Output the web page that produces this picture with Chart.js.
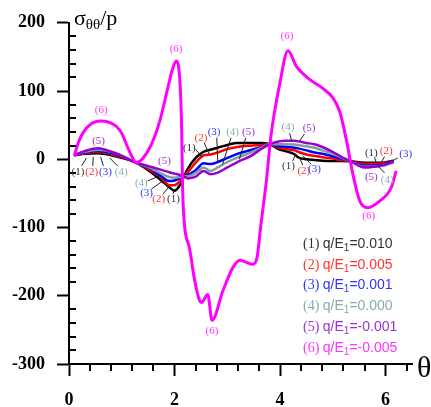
<!DOCTYPE html>
<html>
<head>
<meta charset="utf-8">
<script src="https://cdn.jsdelivr.net/npm/chart.js@4"></script>
<style>
  html, body { margin: 0; padding: 0; background: #fff; }
</style>
</head>
<body>
<canvas id="stressChart" width="431" height="407"></canvas>
<script>
// theta grid shared by curves (1)-(5)
const theta = [0.10, 0.30, 0.55, 0.80, 1.05, 1.27, 1.50, 1.75, 1.90, 2.00, 2.10, 2.18, 2.25, 2.40, 2.55, 2.68, 2.82,
    3.00, 3.19, 3.45, 3.64, 3.80, 3.97, 4.10, 4.28, 4.34, 4.50, 4.65, 4.80, 4.97, 5.15, 5.34, 5.60, 5.92, 6.15];
const sigma1 = [6, 8, 9, 6, 1, -5, -16, -31, -41, -46, -38, -25, -14, 2, 11, 14, 17,
    21, 24, 24, 24, 22, 15, 12, 7, 3, 0, -1, -2, -2.5, -2.5, -3, -5, -5, -2];
const sigma2 = [6, 9, 10.5, 7.5, 2, -5, -14, -27, -38, -38, -32, -25, -19, -5, 6, 7, 10,
    15, 18, 20, 21, 22, 17, 15, 13, 11, 7, 5, 3, 1.5, -1, -3, -7, -6, -2.5];
const sigma3 = [6, 10, 12, 9, 3, -5, -12, -25, -32, -31, -28, -25, -23, -16, -6, -7, -4,
    2, 8, 13.5, 18, 22, 19, 18.5, 17, 16, 13, 10, 8, 5, 1, -3, -9.5, -8, -3];
const sigma4 = [6, 11, 14, 11, 4, -5, -11, -21, -26, -27, -26, -25, -25, -20, -12, -17, -12,
    -4, 2.5, 10, 17, 22, 22, 22, 21.5, 21, 19, 17, 13, 9, 3, -3, -11, -10, -4];
const sigma5 = [6, 12, 16, 11, 3, -5, -10, -15.5, -19, -21, -23, -25, -28, -25.5, -17, -22, -19.5,
    -12, -4, 5, 15, 22, 26, 27, 27, 26.5, 24, 22, 18, 12, 4, -3, -12, -9, -4];

// curve (6) has its own theta points
const theta6 = [0.10, 0.18, 0.26, 0.42, 0.61, 0.80, 0.90, 1.00, 1.11, 1.20, 1.27, 1.53, 1.72, 1.87, 1.97, 2.03, 2.08, 2.13, 2.16,
    2.28, 2.38, 2.47, 2.51, 2.63, 2.71, 2.92, 3.11, 3.24, 3.36, 3.48, 3.56, 3.64, 3.74, 3.83, 3.99,
    4.15, 4.31, 4.56, 4.81, 5.00, 5.13, 5.26, 5.38, 5.51, 5.66, 5.89, 6.11, 6.20];
const sigma6 = [5, 25, 38, 52, 56, 53, 48, 38, 18, 3, -5, 17, 56, 104, 134, 144, 134, 61, -61,
    -129, -177, -206, -210, -198, -236, -192, -158, -148, -151, -154, -145, -94, -32, 36, 109,
    159, 136, 117, 104, 90, 70, 27, -22, -61, -71, -61, -41, -17];

const qRatios = ['0.010', '0.005', '0.001', '0.000', '-0.001', '-0.005'];
const xTicks = [0, 2, 4, 6];
const yTicks = [-300, -200, -100, 0, 100, 200];

const lineColors = ['#000000', '#ff0000', '#0000ff', '#7f9f9f', '#9900cc', '#ff00ff'];
const textColors = ['#333333', '#ff3333', '#3333ff', '#88aaaa', '#9933cc', '#ff33ff'];

// curve tags: [curve no, theta, sigma]
const tags = [
    [6, 0.61, 72], [5, 0.56, 27], [1, 0.17, -18.5], [2, 0.43, -18.5], [3, 0.69, -18.5], [4, 0.99, -18.5],
    [6, 2.03, 161], [5, 1.81, -2.4], [4, 1.37, -34.5], [3, 1.47, -50], [2, 1.70, -58], [1, 1.98, -58],
    [1, 2.28, 17], [2, 2.50, 31.5], [3, 2.75, 40], [4, 3.10, 40], [5, 3.40, 40],
    [4, 4.15, 47], [5, 4.55, 45],
    [1, 4.16, -10], [2, 4.45, -17], [3, 4.65, -14.5],
    [1, 5.73, 9.7], [2, 6.01, 12], [3, 6.38, 7],
    [5, 5.73, -26.7], [4, 6.03, -30],
    [6, 4.13, 180.6], [6, 2.71, -252.5], [6, 5.68, -84]
];
// leader lines: [theta1, sigma1, theta2, sigma2]
const leaders = [
    [0.24, -9.7, 0.33, 2], [0.45, -9.7, 0.46, 3.4], [0.65, -9.7, 0.60, 3.4], [0.92, -9.7, 0.77, 2],
    [1.49, -31.6, 1.72, -24.3], [1.56, -43.7, 1.78, -31.6], [1.78, -51, 1.91, -38.8], [1.97, -51, 2.0, -43.7],
    [2.40, 14.6, 2.53, 2.4], [2.56, 24.2, 2.66, 7.3], [2.80, 31.5, 2.82, -4.9], [3.07, 31.5, 2.91, -7.3], [3.35, 31.5, 3.23, 0],
    [4.18, 38.3, 4.22, 26.7], [4.46, 36.9, 4.37, 26.7],
    [4.24, -2.4, 4.29, 6.3], [4.43, -8.7, 4.37, 2.4], [4.59, -7.3, 4.43, 4.9],
    [5.79, 2.4, 5.82, -3.9], [5.98, 3.8, 5.92, -3.9], [6.23, 2, 6.13, -2.4],
    [5.98, -19.9, 5.85, -9.7]
];

const toPoints = (xs, ys) => xs.map((x, i) => ({ x: x, y: ys[i] }));
const series = [sigma1, sigma2, sigma3, sigma4, sigma5];

const datasets = series.map((s, i) => ({
    data: toPoints(theta, s),
    borderColor: lineColors[i],
    borderWidth: 2.5,
    order: 5 - i
}));
datasets.push({
    data: toPoints(theta6, sigma6),
    borderColor: lineColors[5],
    borderWidth: 3,
    order: 0
});

const extras = {
    id: 'extras',
    afterDraw(chart) {
        const ctx = chart.ctx;
        const xs = chart.scales.x, ys = chart.scales.y;
        const area = chart.chartArea;
        ctx.save();

        // minor ticks
        ctx.strokeStyle = '#000';
        ctx.lineWidth = 2;
        ctx.beginPath();
        for (let k = 1; k * 0.4 <= 6.5; k++) {
            if (k % 5 === 0) continue;
            const px = Math.round(xs.getPixelForValue(k * 0.4));
            ctx.moveTo(px, area.bottom);
            ctx.lineTo(px, area.bottom + 7);
        }
        for (let v = -280; v < 200; v += 20) {
            if (v % 100 === 0) continue;
            const py = Math.round(ys.getPixelForValue(v));
            ctx.moveTo(area.left, py);
            ctx.lineTo(area.left + 7, py);
        }
        ctx.stroke();

        // leader lines
        ctx.strokeStyle = '#222';
        ctx.lineWidth = 1;
        ctx.beginPath();
        leaders.forEach(l => {
            ctx.moveTo(xs.getPixelForValue(l[0]), ys.getPixelForValue(l[1]));
            ctx.lineTo(xs.getPixelForValue(l[2]), ys.getPixelForValue(l[3]));
        });
        ctx.stroke();

        // curve tags
        ctx.font = '11px "Liberation Serif"';
        ctx.textAlign = 'center';
        ctx.textBaseline = 'middle';
        tags.forEach(t => {
            ctx.fillStyle = textColors[t[0] - 1];
            ctx.fillText('(' + t[0] + ')', xs.getPixelForValue(t[1]), ys.getPixelForValue(t[2]));
        });

        // legend
        ctx.textAlign = 'left';
        ctx.textBaseline = 'alphabetic';
        qRatios.forEach((q, i) => {
            const base = 248 + i * 20.7;
            let x = 303;
            ctx.fillStyle = textColors[i];
            ctx.font = '14px "Liberation Serif"';
            const tag = '(' + (i + 1) + ') ';
            ctx.fillText(tag, x, base);
            x += ctx.measureText(tag).width;
            ctx.font = '14px "Liberation Sans"';
            ctx.fillText('q/E', x, base);
            x += ctx.measureText('q/E').width;
            ctx.font = '10px "Liberation Sans"';
            ctx.fillText('1', x, base + 3);
            x += ctx.measureText('1').width;
            ctx.font = '14px "Liberation Sans"';
            ctx.fillText('=' + q, x, base);
        });

        // axis titles
        ctx.fillStyle = '#000';
        let tx = 74;
        ctx.font = '22px "Liberation Serif"';
        ctx.fillText('\u03c3', tx, 25);
        tx += ctx.measureText('\u03c3').width;
        ctx.font = '15px "Liberation Serif"';
        ctx.fillText('\u03b8\u03b8', tx, 29);
        tx += ctx.measureText('\u03b8\u03b8').width;
        ctx.font = '22px "Liberation Serif"';
        ctx.fillText('/p', tx, 25);

        ctx.font = '30px "Liberation Serif"';
        ctx.fillText('\u03b8', 417, 377);
        ctx.restore();
    }
};

const tickFont = { family: 'Liberation Serif', size: 18, weight: 'bold' };

new Chart(document.getElementById('stressChart'), {
    type: 'line',
    data: { datasets: datasets },
    options: {
        responsive: false,
        animation: false,
        events: [],
        layout: { padding: { left: 0, top: 21, right: 19, bottom: 0 } },
        elements: {
            point: { radius: 0 },
            line: { cubicInterpolationMode: 'monotone', fill: false }
        },
        plugins: { legend: { display: false }, tooltip: { enabled: false } },
        scales: {
            x: {
                type: 'linear',
                min: 0,
                max: 6.5,
                afterBuildTicks: s => { s.ticks = xTicks.map(v => ({ value: v })); },
                afterFit: s => { s.height = 43; },
                ticks: { font: tickFont, color: '#000', padding: 14, maxRotation: 0 },
                grid: { drawOnChartArea: false, drawTicks: true, tickLength: 12, tickWidth: 2, tickColor: '#000' },
                border: { display: true, color: '#000', width: 2 }
            },
            y: {
                type: 'linear',
                min: -300,
                max: 200,
                afterBuildTicks: s => { s.ticks = yTicks.map(v => ({ value: v })); },
                afterFit: s => { s.width = 69; },
                ticks: { font: tickFont, color: '#000', padding: 12 },
                grid: { drawOnChartArea: false, drawTicks: true, tickLength: 12, tickWidth: 2, tickColor: '#000' },
                border: { display: true, color: '#000', width: 2 }
            }
        }
    },
    plugins: [extras]
});
</script>
</body>
</html>
